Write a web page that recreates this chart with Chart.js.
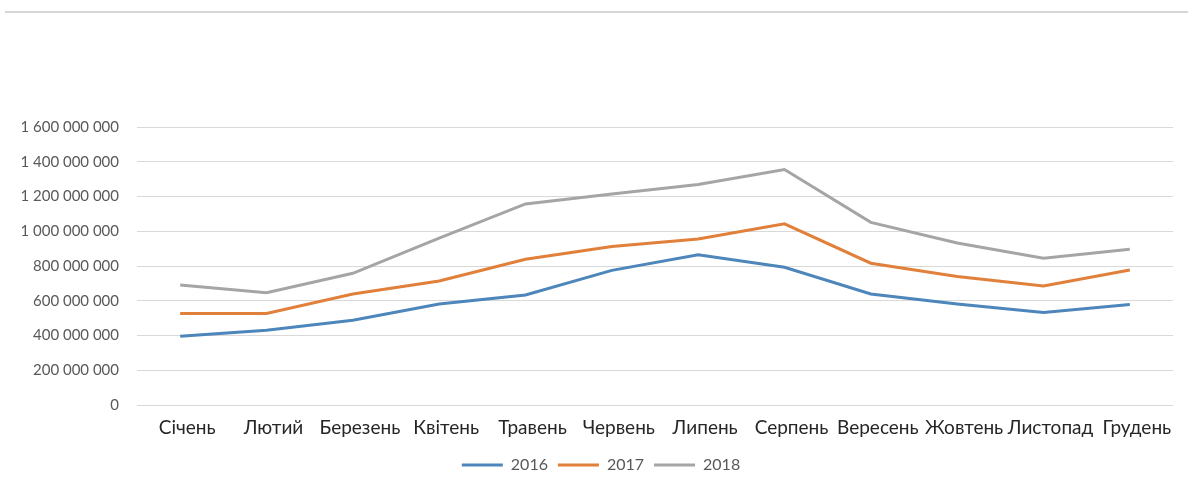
<!DOCTYPE html>
<html lang="uk">
<head>
<meta charset="utf-8">
<title>Помісячна динаміка, 2016–2018</title>
<script src="https://cdn.jsdelivr.net/npm/chart.js@4/dist/chart.umd.min.js"></script>
<style>
  html, body { margin: 0; padding: 0; background: #ffffff; }
  #wrap { position: relative; width: 1192px; height: 494px; }
  #frame { position: absolute; left: 5px; right: 4px; top: 11px; height: 0; border-top: 2px solid #d6d6d6; }
  canvas { position: absolute; left: 0; top: 0; }
</style>
</head>
<body>
<div id="wrap">
  <div id="frame"></div>
  <canvas id="chart" width="1192" height="494"></canvas>
</div>
<script>
// Months along the category axis
const months = ['Січень', 'Лютий', 'Березень', 'Квітень', 'Травень', 'Червень',
                'Липень', 'Серпень', 'Вересень', 'Жовтень', 'Листопад', 'Грудень'];

// Monthly totals per year
const values2016 = [396000000, 430000000, 488000000, 581000000, 633000000, 775000000,
                    864000000, 793000000, 639000000, 581000000, 533000000, 579000000];
const values2017 = [527000000, 527000000, 639000000, 714000000, 839000000, 912000000,
                    955000000, 1043000000, 816000000, 739000000, 685000000, 777000000];
const values2018 = [690000000, 646000000, 758000000, 960000000, 1157000000, 1215000000,
                    1269000000, 1355000000, 1051000000, 932000000, 845000000, 897000000];

const seriesNames = ['2016', '2017', '2018'];

// Value axis range and step
const yMin = 0;
const yMax = 1600000000;
const yStep = 200000000;

const colors = ['#4d86ba', '#e0803a', '#a5a5a5'];

// Group digits by threes with spaces: 1600000000 -> "1 600 000 000"
function spaced(v) {
  return String(Math.round(v)).replace(/\B(?=(\d{3})+(?!\d))/g, ' ');
}

const datasets = [values2016, values2017, values2018].map((vals, i) => ({
  label: seriesNames[i],
  data: vals,
  borderColor: colors[i],
  backgroundColor: colors[i],
  borderWidth: 3,
  pointRadius: 0,
  pointHoverRadius: 0,
  tension: 0,
  fill: false
}));

const fontFamily = 'Lato, "Open Sans", sans-serif';

new Chart(document.getElementById('chart'), {
  type: 'line',
  data: { labels: months, datasets },
  options: {
    responsive: false,
    animation: false,
    layout: { padding: { left: 10, right: 0, top: 127, bottom: 11 } },
    scales: {
      x: {
        offset: true,
        grid: { display: false, drawTicks: false },
        border: { display: false },
        ticks: {
          autoSkip: false,
          maxRotation: 0,
          minRotation: 0,
          padding: 11,
          labelOffset: 7,
          color: '#262626',
          font: { family: fontFamily, size: 19 }
        },
        afterFit(scale) { scale.height = 42; }
      },
      y: {
        min: yMin,
        max: yMax,
        grid: { color: '#d9d9d9', lineWidth: 1, drawTicks: false },
        border: { display: false },
        ticks: {
          stepSize: yStep,
          padding: 18,
          color: '#595959',
          font: { family: fontFamily, size: 15 },
          callback: (v) => spaced(v)
        },
        afterFit(scale) { scale.width = 127; }
      },
      // empty strip on the right edge of the plot
      yRight: {
        position: 'right',
        display: true,
        grid: { display: false },
        border: { display: false },
        ticks: { display: false },
        afterFit(scale) { scale.width = 19; }
      }
    },
    plugins: {
      tooltip: { enabled: false },
      legend: {
        position: 'bottom',
        labels: {
          usePointStyle: true,
          pointStyle: 'line',
          pointStyleWidth: 41,
          padding: 10,
          color: '#595959',
          font: { family: fontFamily, size: 16 }
        }
      }
    }
  }
});
</script>
</body>
</html>
